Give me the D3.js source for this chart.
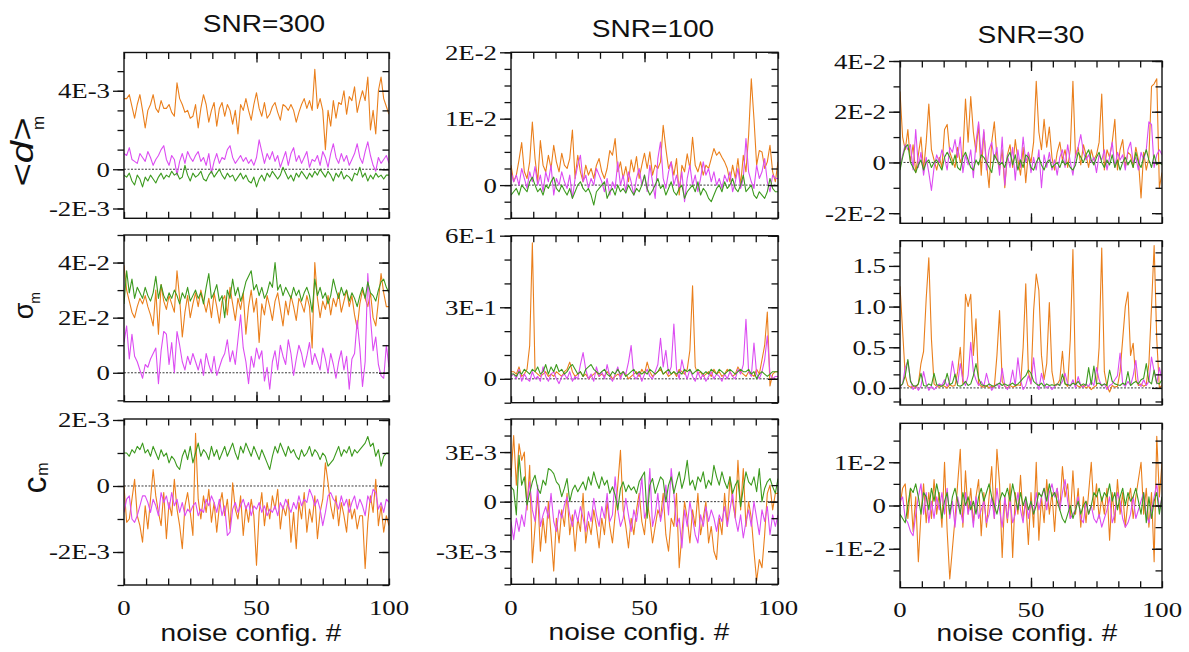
<!DOCTYPE html>
<html><head><meta charset="utf-8">
<script src="https://cdn.jsdelivr.net/npm/d3@7"></script>
<style>body{margin:0;background:#fff}</style>
</head><body><svg id="c" width="1189" height="652"></svg>
<script>
// ---------- DATA ----------
const configNumbers = d3.range(0, 101);          // noise config. #
const columnTitles = ["SNR=300", "SNR=100", "SNR=30"];
const xTickLabels = ["0", "50", "100"];
const xTickValues = [0, 50, 100];

// SNR=300, <d>m   (units of 1E-4)
const d300_orange = [36,36,38,32,26,33,38,30,21,30, 33,38,31,29,35,31,31,33,29,27, 44,36,33,29,30,26,27,33,21,31, 38,33,24,30,34,22,31,34,27,33, 30,23,30,18,33,30,36,30,25,33, 39,31,27,34,26,28,32,34,29,25, 33,32,30,33,30,24,29,33,36,31, 35,30,51,31,36,30,10,30,22,35, 26,34,33,40,28,37,35,42,29,35, 40,35,47,20,30,18,40,47,36,32, 28];
const d300_magenta = [8,7,11,5,4,3,8,6,4,9, 6,2,5,7,10,12,5,2,7,5, -3,4,8,3,9,6,4,7,9,4, 6,2,8,-2,4,8,3,6,5,10, 12,6,3,5,7,4,6,3,5,2, 6,15,9,3,8,5,9,4,7,1, 5,9,2,8,11,4,7,3,6,9, 1,5,4,7,2,9,6,1,8,13, 6,3,8,4,7,2,5,8,13,6, 3,9,14,7,2,-1,6,3,5,7, 3];
const d300_green = [-3,-4,-2,-6,-8,-3,-5,-9,-4,-6, -3,-5,-7,-4,-2,-5,-3,-4,-1,-3, -2,-5,-4,2,-3,-6,-2,-4,-3,-1, -5,-6,-3,-1,-4,-2,0,-3,-5,-2, -4,-3,-6,-4,-2,-5,-3,-6,-7,-4, -9,-5,-3,-6,-2,-4,-1,-3,-5,-3, 1,-2,-5,-3,-6,-2,-4,-1,-3,-5, -2,-4,-1,-3,0,-2,-4,-1,-3,-6, -2,-4,-1,-5,-3,-4,-6,-2,-3,1, -4,-2,-6,-3,-5,-2,-4,-3,-5,-3, -3];

// SNR=300, sigma_m (units of 1E-3)
const s300_orange = [39,30,26,22,20,24,27,25,28,24, 21,17,30,14,32,26,23,28,25,22, 37,27,13,22,28,20,25,29,24,30, 26,22,27,20,29,24,18,26,28,21, 31,25,19,27,23,29,14,24,30,22, 27,11,25,21,28,24,19,26,29,23, 17,26,21,28,24,19,27,25,22,28, 24,9,40,27,20,26,23,28,21,27, 24,29,22,26,30,24,28,21,16,25, 30,27,24,29,20,17,26,36,29,24, 24];
const s300_magenta = [11,17,5,14,6,4,1,-2,3,2, 5,7,9,-4,8,15,14,3,11,0, 15,10,4,1,6,3,7,4,1,5, -1,7,3,0,6,-1,2,5,7,12, 4,8,3,12,21,9,4,-4,6,2, 9,5,8,-3,2,-6,4,8,1,10, 6,3,12,7,-1,5,10,7,2,6, 11,3,7,4,1,9,5,0,7,3, -2,4,8,1,6,-6,5,7,19,9, -5,4,36,20,8,13,3,-1,-2,10, 2];
const s300_green = [25,37,29,34,27,31,29,27,31,28, 26,29,35,27,32,28,26,29,27,30, 28,25,29,27,31,26,28,30,27,29, 25,31,36,27,29,32,26,28,20,30, 27,34,28,31,26,29,33,35,37,30, 32,28,31,27,29,33,31,40,30,32, 28,31,29,27,31,28,30,26,29,31, 28,22,34,28,31,27,29,25,28,34, 30,27,31,28,30,26,29,27,24,28, 31,27,33,29,28,26,30,33,34,31, 29];

// SNR=300, c_m (units of 1E-4)
const c300_orange = [0,-11,-10,-4,2,-9,-12,-17,-6,-13, -4,5,-3,-8,-12,-2,-16,-5,-9,2, -7,-12,-19,-6,-2,-8,-15,16,-4,-10, -3,-8,-1,-11,-5,-14,-6,-2,-9,-4, -13,1,-7,-10,-3,-15,-6,-11,-4,-9, -24,-8,-2,-12,-5,-10,-3,-7,-1,-13, -6,-9,-4,-17,-8,-19,-5,-10,-2,-14, -7,-11,-3,-16,-8,-4,7,1,-6,-10, -3,-12,-5,-9,-14,-4,-10,-7,-13,-9, -9,-25,-11,-3,-8,2,-12,-6,-14,-9, -12];
const c300_magenta = [-8,-4,-3,-10,-11,-9,-6,-3,-3,-5, -8,-4,-6,-9,-2,-5,-3,-7,-2,-6, -4,-8,-5,-9,-7,-8,-6,-5,-9,-7, -8,-4,-6,-3,-5,-8,-4,-9,-6,-15, -14,-7,-5,-8,-6,-4,-7,-5,-9,-6, -7,-5,-8,-6,-9,-7,-8,-6,-9,-5, -7,-4,-6,-8,-5,-7,-3,-6,-4,-5, -1,-3,-6,-4,-7,-12,-8,-3,-2,-4, -5,-7,-3,-6,-4,-8,-5,-3,-7,-4, -6,-9,-3,-5,-1,-2,-7,-5,-8,-4, -5];
const c300_green = [10,10,9,11,10,12,11,13,10,11, 9,12,10,8,11,9,10,7,9,8, 6,5,9,11,8,12,7,10,13,9, 11,10,8,12,9,11,8,10,12,9, 11,13,10,8,12,10,13,11,9,12, 10,8,11,9,7,5,9,12,10,13, 11,9,12,10,11,9,8,11,9,10, 12,9,11,10,8,10,9,6,7,8, 10,12,9,11,10,12,9,11,10,11, 12,13,15,12,13,9,11,6,9,10, 10];

// SNR=100, <d>m (units of 1E-4)
const d100_orange = [30,5,15,38,64,20,10,35,95,40, 5,67,30,20,45,25,60,35,20,48, 30,25,40,83,10,45,20,5,30,15, 25,10,30,40,20,10,25,52,45,70, 20,35,10,28,5,38,20,43,10,30, 48,25,50,15,30,25,35,90,55,25, 35,15,40,-15,30,20,47,25,72,30, 20,35,15,30,25,40,55,45,50,42, 35,25,5,30,10,40,0,45,20,75, 160,100,30,52,50,25,35,60,20,5, 35];
const d100_magenta = [20,5,15,0,25,10,-5,20,5,28, 0,15,-10,20,5,30,-15,10,0,20, 5,-5,15,-20,10,30,45,5,15,-5, 10,0,25,15,5,-10,10,-15,5,-5, 35,0,15,-10,20,5,-15,10,25,0, 15,-10,30,5,-20,40,65,10,-5,20, 35,0,15,-5,20,-25,10,30,0,15, -10,10,35,15,25,5,20,0,10,-5, 15,5,20,-10,5,25,-5,10,70,20, 5,-5,30,10,20,40,5,-10,15,10, 10];
const d100_green = [-15,-10,-5,-15,0,-5,-10,5,12,0, -10,-5,-15,0,-5,5,12,-5,-10,0, -8,-15,-5,-20,-10,0,5,-5,-10,-5, -15,-30,-10,-5,0,5,-20,-10,-5,-15, 0,-10,-5,-12,0,-8,-15,-5,-10,0, 15,-5,-15,-8,0,10,-5,0,-15,-5, 5,-10,-15,-5,0,-20,-10,-5,0,-10, 5,-15,-5,-10,-20,-25,-15,-5,0,-10, 5,-5,0,10,-5,-10,0,15,-10,-5, 0,-15,-20,-10,-15,-20,-10,10,-5,-10, -10];

// SNR=100, sigma_m (units of 1E-2)
const s100_orange = [3,3,2,5,1,2,4,14,57,3, 2,1,2,3,1,2,1,3,2,1, 3,4,7,3,1,2,3,1,2,0, 1,2,3,1,2,1,3,2,0,1, 2,1,3,2,0,1,2,3,1,4, 2,7,3,1,2,3,4,2,3,1, 2,3,1,4,3,2,4,12,39,5, 2,3,1,2,3,1,4,2,3,1, 2,4,3,1,2,5,3,2,1,3, 2,1,4,2,8,14,28,-3,2,3, 3];
const s100_magenta = [1,2,0,4,-1,2,0,-1,3,0, 1,-1,5,1,-1,2,3,0,-2,1, 2,0,3,-1,1,0,6,11,4,0, 2,-1,5,1,3,0,6,1,-1,2, 5,0,3,2,7,14,1,0,3,-1, 2,4,1,0,3,6,17,5,12,2, 5,23,4,0,8,3,0,4,1,-1, 3,0,2,-1,1,3,0,2,1,-1, 2,0,3,1,0,4,2,6,25,3, 1,15,2,0,3,8,18,2,0,1, 1];
const s100_green = [2,2,1,3,2,4,3,2,4,3, 5,2,3,6,2,5,3,6,3,4, 2,3,5,6,4,2,3,1,4,5, 6,4,3,2,3,4,2,1,3,2, 4,2,3,1,2,3,4,2,3,2, 3,2,4,3,2,3,5,2,3,4, 2,3,2,3,2,4,3,4,2,3, 4,3,2,3,2,4,3,2,4,3, 2,3,4,3,2,3,4,3,3,4, 2,3,0,2,3,2,1,2,3,3, 3];

// SNR=100, c_m (units of 1E-4)
const c100_orange = [15,40,10,35,25,30,-5,22,-37,-15, 5,-30,-10,-25,0,-20,-42,-10,-25,-5, -15,5,-20,-8,-30,-10,-18,5,-25,-12, -20,-5,-15,-28,-10,-20,0,-15,-25,-8, 10,31,-5,-15,-28,-10,-20,-5,5,-12, -20,0,-10,-25,-15,-5,-10,5,-20,-30, -10,-15,5,-40,-20,0,-10,-25,-5,-15, 5,-20,-10,0,-25,-15,-30,-35,-10,-20, 5,-15,15,0,-10,25,-5,20,-15,0, -10,-30,-48,-35,-40,-20,5,10,-5,5, 5];
const c100_magenta = [-12,-23,-10,-18,-8,-15,0,12,-5,-12, 10,-15,-8,-3,-10,5,-12,-18,-5,-10, -2,3,-8,-15,-5,-12,-3,-10,-18,-6, -12,2,-8,-15,-3,-10,5,-12,-8,15, -5,-15,-10,2,-8,-18,-5,-12,0,15, -10,-5,20,-15,-8,5,-12,-3,10,-8, 20,5,-15,-10,-28,-5,-15,0,-10,-20, -25,-8,-15,-3,-12,-5,-10,-18,-8,-12, -3,-15,-5,5,-10,-18,-8,-22,-12,-5, -15,0,-10,-20,-5,-12,-3,-20,-8,-15, -8];
const c100_green = [9,7,-8,28,10,15,-2,5,12,16, 8,5,13,10,20,19,17,12,10,3, 8,14,0,7,10,6,9,12,7,15, 10,18,12,8,15,10,13,5,9,4, -5,8,12,6,10,7,9,5,12,15, 18,-10,10,14,5,10,15,13,0,10, 15,5,12,18,8,14,25,10,13,7, 15,12,18,8,13,10,22,15,10,18, 12,8,15,5,10,13,-3,8,18,12, 10,15,6,20,0,8,12,14,9,5, 14];

// SNR=30, <d>m (units of 1E-3)
const d30_orange = [28,10,5,13,0,7,-4,3,10,-3, 8,23,5,1,-3,2,-2,13,15,4, 1,-2,6,0,3,25,8,26,12,4, 15,-5,12,0,-10,8,16,2,-3,5, -10,3,7,-2,9,1,-5,6,-8,4, 0,8,32,12,5,17,6,14,2,-3, 4,8,1,5,-2,5,32,2,6,-1, 7,3,-2,5,1,3,8,27,-3,5, 2,8,17,-3,5,9,-2,4,3,-2, 6,1,-14,4,-3,2,30,31,33,-10, -4];
const d30_magenta = [-2,3,7,5,7,-3,13,-2,4,-5, 2,-4,-11,-2,3,0,5,2,-3,6, 4,9,2,10,-4,3,-1,5,-6,8, 16,2,13,-3,5,8,1,6,-5,10, -9,3,-2,6,-7,5,-2,10,0,4, -4,2,-3,5,-10,3,-2,4,-3,1, -5,2,5,-2,7,0,-5,3,6,11, 4,1,3,0,2,-4,3,1,5,-3, 2,8,-2,4,1,3,-3,5,8,0, 2,-3,4,1,5,16,15,-2,3,5, 3];
const d30_green = [-3,2,6,7,0,-2,-4,-1,1,-3, 0,1,-2,0,1,-1,-3,2,4,2, -1,3,-2,-3,2,4,1,-2,-3,1, -1,3,2,0,-2,-4,3,1,-1,0, -2,2,4,-1,3,-3,1,-2,3,2, -2,-3,0,2,-1,-3,0,1,-2,-1, 0,-2,1,-1,0,-2,-3,-1,4,2, 0,3,5,1,-1,2,4,0,-2,1, -1,3,-2,1,-3,0,2,-1,1,-2, 4,0,-2,2,5,1,-2,3,-1,0, -1];

// SNR=30, sigma_m (units of 1E-2)
const s30_orange = [125,70,15,3,1,2,0,5,30,45, 110,160,60,5,2,1,3,2,0,4, 2,3,20,50,5,115,100,115,40,85, 5,2,1,3,0,2,1,40,95,8, 2,0,3,1,2,4,3,50,128,20, 5,95,140,120,40,10,30,105,20,2, 4,10,45,5,2,60,170,5,2,1, 3,0,2,-2,1,3,50,172,20,2, -5,3,1,2,20,60,100,118,40,55, 10,3,5,2,4,30,100,175,60,0, 3];
const s30_magenta = [1,5,25,33,10,-2,3,-3,2,20, 5,-3,2,-2,1,5,3,10,2,8, 33,15,5,30,10,3,15,56,20,10, 3,8,2,18,5,-3,2,5,0,24, 3,-2,5,22,3,37,10,-2,3,15, 5,37,8,-2,18,5,0,3,-2,2, 5,3,8,18,5,2,10,0,14,3, 1,5,2,8,3,25,10,2,5,-2, 3,5,10,15,43,5,2,8,3,15, 34,5,2,10,3,8,38,20,5,25, 10];
const s30_green = [2,5,15,35,8,3,2,5,18,3, 2,5,3,18,4,3,2,5,18,4, 6,17,3,2,4,8,3,5,15,30, 12,4,3,2,5,3,2,4,6,3, 5,3,4,6,3,5,8,12,15,22, 18,8,5,3,6,2,5,3,4,3, 5,3,17,5,4,3,6,4,8,3, 5,3,25,4,27,5,6,3,5,3, 22,8,5,4,3,6,4,20,3,6, 8,5,10,12,30,8,5,22,6,5, 10];

// SNR=30, c_m (units of 1E-3)
const c30_orange = [0,4,5,-3,4,-6,2,-13,-2,5, -4,3,-3,6,-2,3,-5,10,-6,-17, -10,-3,5,13,-5,8,-2,4,-4,2, 6,-7,3,-5,2,9,-3,13,5,-12, 2,-4,5,-12,3,-2,7,-3,1,-9, 3,-5,10,-8,2,-4,6,-2,3,-6, 4,-1,9,2,5,-3,8,-2,4,-5, 2,-4,3,10,-1,5,-3,2,-2,4, -8,3,-4,6,-2,3,-5,1,4,-3, 2,6,10,-2,4,-5,3,-13,16,2, 10];
const c30_magenta = [1,2,-3,-4,-6,-7,-2,2,5,-2, 3,-4,1,-3,2,-1,3,-2,4,-3, 1,-5,2,-1,-4,3,-2,1,-5,2, -3,-1,1,-4,-2,2,-3,4,-1,-5, 2,-3,1,-4,-2,3,-1,-4,2,-3, 1,-2,3,-1,2,4,-1,3,5,2, 4,-1,3,6,1,-3,-2,-1,2,-3, -4,1,-2,0,-3,-4,-2,-5,-3,-1, 2,-4,-2,3,1,-3,-5,-4,-2,2, -3,-1,1,3,-2,-4,-1,2,5,-1, 2];
const c30_green = [-2,-3,-4,0,4,3,5,2,-2,3, 2,-1,4,1,5,2,-3,1,3,-2, 2,4,1,-2,3,0,2,-1,1,-2, 2,4,1,3,5,2,0,-2,1,3, 2,4,1,5,2,-1,3,0,2,-1, 1,-2,0,3,2,4,1,5,2,3, 1,-1,-3,-4,-2,0,-3,-1,1,-2, 0,1,-2,0,3,2,4,1,3,2, 5,1,3,-1,2,4,0,3,1,2, 4,1,-2,3,-4,2,-3,1,3,-2, 2];

// tick labels per panel
const yLabels_d300 = ["4E-3", "0", "-2E-3"],  yVals_d300 = [4e-3, 0, -2e-3];
const yLabels_s300 = ["4E-2", "2E-2", "0"],   yVals_s300 = [4e-2, 2e-2, 0];
const yLabels_c300 = ["2E-3", "0", "-2E-3"],  yVals_c300 = [2e-3, 0, -2e-3];
const yLabels_d100 = ["2E-2", "1E-2", "0"],   yVals_d100 = [2e-2, 1e-2, 0];
const yLabels_s100 = ["6E-1", "3E-1", "0"],   yVals_s100 = [0.6, 0.3, 0];
const yLabels_c100 = ["3E-3", "0", "-3E-3"],  yVals_c100 = [3e-3, 0, -3e-3];
const yLabels_d30  = ["4E-2", "2E-2", "0", "-2E-2"], yVals_d30 = [4e-2, 2e-2, 0, -2e-2];
const yLabels_s30  = ["1.5", "1.0", "0.5", "0.0"],   yVals_s30 = [1.5, 1.0, 0.5, 0];
const yLabels_c30  = ["1E-2", "0", "-1E-2"],  yVals_c30 = [1e-2, 0, -1e-2];

// ---------- LAYOUT ----------
const COLORS = ["#ea7f1c", "#dc4cf2", "#3c9a1e"];   // orange, magenta, green
const SX = 1.22;
const SERIF = "'Liberation Serif', 'Times New Roman', serif";
const SANS = "'Liberation Sans', Arial, sans-serif";
const cols = [{x0:124, x1:389}, {x0:511, x1:778}, {x0:900, x1:1162}];
const panels = [
  {c:0, y0:52.5, y1:218.3, dom:[-2.5e-3, 5.95e-3], step:1e-3, unit:1e-4, s:[d300_orange,d300_magenta,d300_green], lv:yVals_d300, lt:yLabels_d300},
  {c:0, y0:235,  y1:401.7, dom:[-1.05e-2, 5e-2], step:1e-2, unit:1e-3, s:[s300_orange,s300_magenta,s300_green], lv:yVals_s300, lt:yLabels_s300},
  {c:0, y0:419,  y1:585,   dom:[-3e-3, 2.03e-3], step:1e-3, unit:1e-4, s:[c300_orange,c300_magenta,c300_green], lv:yVals_c300, lt:yLabels_c300, bottom:true, by:615},
  {c:1, y0:52.3, y1:218.3, dom:[-5e-3, 2e-2], step:2.5e-3, unit:1e-4, s:[d100_orange,d100_magenta,d100_green], lv:yVals_d100, lt:yLabels_d100},
  {c:1, y0:235.7,y1:402.7, dom:[-0.1, 0.6], step:0.1, unit:1e-2, s:[s100_orange,s100_magenta,s100_green], lv:yVals_s100, lt:yLabels_s100},
  {c:1, y0:419,  y1:584.3, dom:[-5e-3, 5e-3], step:1e-3, unit:1e-4, s:[c100_orange,c100_magenta,c100_green], lv:yVals_c100, lt:yLabels_c100, bottom:true, by:615},
  {c:2, y0:61,   y1:223.3, dom:[-2.4e-2, 4e-2], step:1e-2, unit:1e-3, s:[d30_orange,d30_magenta,d30_green], lv:yVals_d30, lt:yLabels_d30},
  {c:2, y0:240.7,y1:405,   dom:[-0.21, 1.81], step:0.5/3, unit:1e-2, s:[s30_orange,s30_magenta,s30_green], lv:yVals_s30, lt:yLabels_s30},
  {c:2, y0:423.3,y1:587.7, dom:[-1.9e-2, 1.9e-2], step:5e-3, unit:1e-3, s:[c30_orange,c30_magenta,c30_green], lv:yVals_c30, lt:yLabels_c30, bottom:true, by:617}
];

const svg = d3.select("#c");
const defs = svg.append("defs");

function stext(x, y, str, size, family, anchor) {
  return svg.append("text")
    .attr("transform", `translate(${x},${y}) scale(${SX},1)`)
    .style("font-family", family).attr("font-size", size)
    .attr("text-anchor", anchor).attr("fill", "#111").text(str);
}

panels.forEach((p, i) => {
  const col = cols[p.c];
  const x = d3.scaleLinear().domain([0, 100]).range([col.x0, col.x1]);
  const y = d3.scaleLinear().domain(p.dom).range([p.y1, p.y0]);
  const g = svg.append("g");

  defs.append("clipPath").attr("id", "cl" + i).append("rect")
    .attr("x", col.x0).attr("y", p.y0).attr("width", col.x1 - col.x0).attr("height", p.y1 - p.y0);

  // zero reference
  g.append("line").attr("x1", col.x0).attr("x2", col.x1).attr("y1", y(0)).attr("y2", y(0))
    .attr("stroke", "#222").attr("stroke-width", 0.9).attr("stroke-dasharray", "2,1.5");

  const lines = g.append("g").attr("clip-path", `url(#cl${i})`);
  p.s.forEach((arr, k) => {
    const line = d3.line().x((d, j) => x(configNumbers[j])).y(d => y(d * p.unit));
    lines.append("path").datum(arr.slice(0, configNumbers.length))
      .attr("d", line).attr("fill", "none").attr("stroke", COLORS[k])
      .attr("stroke-width", 1.1).attr("stroke-linejoin", "round");
  });

  // ticks
  const lo = Math.ceil(p.dom[0] / p.step - 1e-6), hi = Math.floor(p.dom[1] / p.step + 1e-6);
  const minorY = d3.range(lo, hi + 1).map(k => k * p.step);
  const xMinor = d3.range(0, 13).map(k => k * 100 / 12);

  const axG = (axis, tx, ty) => {
    const a = g.append("g").attr("transform", `translate(${tx},${ty})`).call(axis);
    a.select(".domain").remove();
    a.selectAll("line").attr("stroke", "#111").attr("stroke-width", 1.3);
    a.selectAll("text").remove();
  };
  axG(d3.axisLeft(y).tickValues(minorY).tickSize(6.5), col.x0, 0);
  axG(d3.axisLeft(y).tickValues(p.lv).tickSize(11), col.x0, 0);
  axG(d3.axisLeft(y).tickValues(minorY).tickSize(6.5), col.x1, 0);
  axG(d3.axisLeft(y).tickValues(p.lv).tickSize(10), col.x1, 0);
  axG(d3.axisBottom(x).tickValues(xMinor).tickSize(6.5), 0, p.y0);
  axG(d3.axisBottom(x).tickValues([50]).tickSize(10), 0, p.y0);
  axG(d3.axisTop(x).tickValues(xMinor).tickSize(6.5), 0, p.y1);
  axG(d3.axisTop(x).tickValues([50]).tickSize(10), 0, p.y1);

  // frame
  g.append("rect").attr("x", col.x0).attr("y", p.y0).attr("width", col.x1 - col.x0)
    .attr("height", p.y1 - p.y0).attr("fill", "none").attr("stroke", "#111").attr("stroke-width", 1.4);

  // y tick labels
  p.lv.forEach((v, k) => stext(col.x0 - 14, y(v) + 7.5, p.lt[k], 22, SERIF, "end"));

  if (p.bottom) {
    xTickValues.forEach((v, k) => stext(x(v), p.by, xTickLabels[k], 22, SERIF, "middle"));
  }
});

// column titles
const titlePos = [[264, 31.5], [653, 36.5], [1031, 43]];
columnTitles.forEach((t, k) => stext(titlePos[k][0], titlePos[k][1], t, 23, SANS, "middle"));

// x axis titles
const xTitlePos = [[251, 641], [639, 640], [1027, 641]];
xTitlePos.forEach(pp => stext(pp[0], pp[1], "noise config. #", 23, SANS, "middle"));

// y axis titles (rotated)
function rtext(x, y, size, sx) {
  return svg.append("text")
    .attr("transform", `translate(${x},${y}) rotate(-90) scale(${sx},1)`)
    .style("font-family", SANS).attr("font-size", size)
    .attr("text-anchor", "middle").attr("fill", "#111");
}
const l1 = rtext(33, 152, 32, 1.25);
l1.append("tspan").text("<");
l1.append("tspan").attr("font-style", "italic").text("d");
l1.append("tspan").text(">");
rtext(44, 123, 17, 1).text("m");

rtext(33, 311, 27, 1).text("σ");
rtext(39.5, 298, 14, 1).text("m");

rtext(46, 485, 34, 1).text("c");
rtext(48, 469, 16, 1).text("m");
</script>
</body></html>
